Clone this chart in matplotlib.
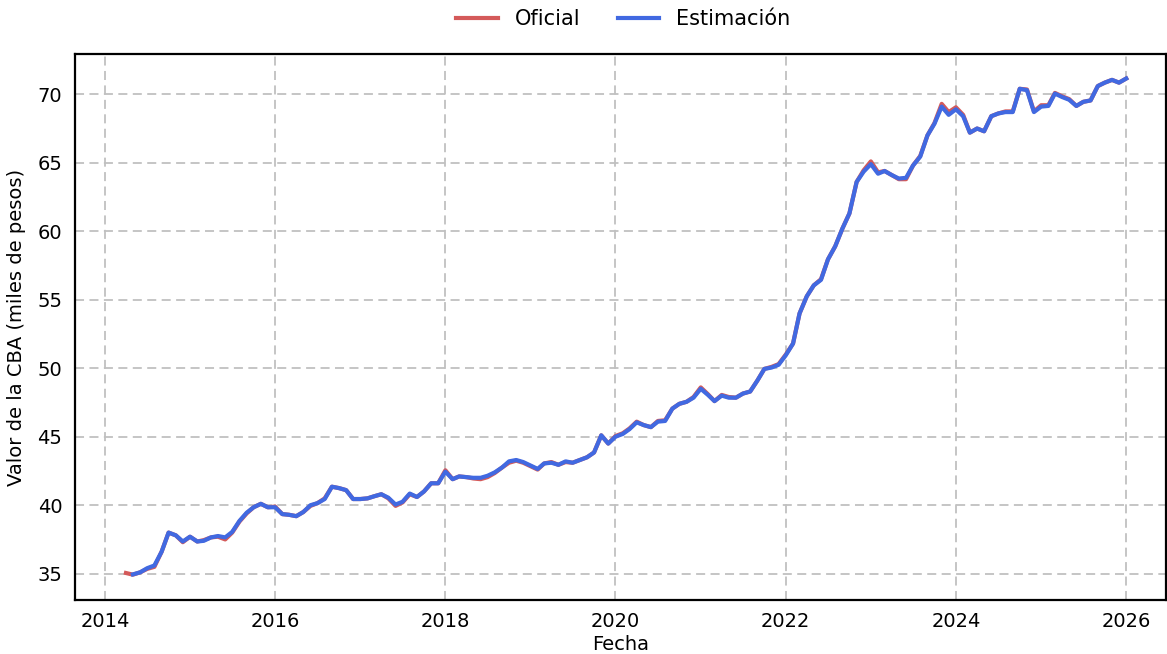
import pandas as pd
import matplotlib
matplotlib.use('Agg')
import matplotlib.pyplot as plt
import matplotlib.dates as mdates

# valores (miles de pesos), mensual
oficial_inicio = '2014-04-01'
oficial = [
    35.05, 34.93, 35.1, 35.35, 35.5, 36.6, 38.0, 37.8, 37.3,
    37.7, 37.35, 37.45, 37.65, 37.7, 37.5, 38.0, 38.8, 39.4, 39.85, 40.1, 39.85,
    39.9, 39.35, 39.3, 39.2, 39.5, 39.95, 40.15, 40.5, 41.35, 41.25, 41.1, 40.45,
    40.45, 40.5, 40.65, 40.8, 40.5, 39.95, 40.2, 40.8, 40.6, 41.0, 41.6, 41.6,
    42.55, 41.9, 42.1, 42.05, 41.95, 41.9, 42.05, 42.35, 42.75, 43.1, 43.25, 43.1,
    42.85, 42.6, 43.05, 43.15, 42.95, 43.15, 43.1, 43.3, 43.5, 43.85, 45.1, 44.5,
    45.05, 45.25, 45.6, 46.1, 45.85, 45.7, 46.15, 46.2, 47.05, 47.4, 47.55, 47.9,
    48.6, 48.1, 47.6, 48.05, 47.9, 47.85, 48.15, 48.3, 49.1, 49.95, 50.1, 50.3,
    51.0, 51.8, 54.0, 55.25, 56.05, 56.5, 57.95, 58.9, 60.2, 61.3, 63.6, 64.45,
    65.1, 64.3, 64.4, 64.1, 63.8, 63.8, 64.8, 65.5, 67.0, 67.9, 69.3, 68.7,
    69.05, 68.5, 67.2, 67.5, 67.3, 68.4, 68.6, 68.75, 68.75, 70.4, 70.35, 68.75,
    69.2, 69.2, 70.1, 69.85, 69.65, 69.15, 69.45, 69.55, 70.6, 70.85, 71.05, 70.85,
    71.15,
]

estimacion_inicio = '2014-05-01'
estimacion = [
    34.95, 35.1, 35.4, 35.6, 36.6, 38.0, 37.8, 37.35,
    37.7, 37.35, 37.4, 37.65, 37.75, 37.65, 38.05, 38.85, 39.45, 39.85, 40.1, 39.85,
    39.85, 39.35, 39.3, 39.2, 39.5, 40.0, 40.15, 40.45, 41.35, 41.25, 41.1, 40.45,
    40.45, 40.5, 40.65, 40.8, 40.55, 40.05, 40.25, 40.85, 40.6, 41.0, 41.6, 41.6,
    42.45, 41.9, 42.1, 42.05, 42.0, 42.0, 42.15, 42.4, 42.75, 43.2, 43.3, 43.15,
    42.9, 42.65, 43.05, 43.1, 42.95, 43.2, 43.1, 43.3, 43.5, 43.85, 45.1, 44.5,
    45.0, 45.2, 45.55, 46.05, 45.85, 45.7, 46.1, 46.15, 47.05, 47.4, 47.55, 47.85,
    48.5, 48.05, 47.6, 48.0, 47.85, 47.85, 48.15, 48.3, 49.1, 49.95, 50.05, 50.25,
    50.95, 51.8, 54.0, 55.25, 56.05, 56.45, 57.95, 58.9, 60.2, 61.3, 63.6, 64.35,
    64.9, 64.2, 64.4, 64.1, 63.85, 63.9, 64.8, 65.45, 67.0, 67.85, 69.1, 68.5,
    68.9, 68.4, 67.2, 67.5, 67.3, 68.4, 68.6, 68.7, 68.7, 70.4, 70.3, 68.7,
    69.1, 69.15, 70.05, 69.8, 69.6, 69.15, 69.45, 69.55, 70.6, 70.85, 71.05, 70.85,
    71.15,
]

fechas_oficial = pd.date_range(oficial_inicio, periods=len(oficial), freq='MS')
fechas_estimacion = pd.date_range(estimacion_inicio, periods=len(estimacion), freq='MS')

plt.rcParams['font.family'] = 'DejaVu Sans'

fig = plt.figure(figsize=(11.67, 6.54), dpi=100)
ax = fig.add_axes([0.064, 0.083, 0.935, 0.834])

ax.plot(fechas_oficial, oficial, color='#d45a5a', linewidth=3, label='Oficial')
ax.plot(fechas_estimacion, estimacion, color='#4169e1', linewidth=3, label='Estimación')

ax.set_xlim(pd.Timestamp('2013-08-24'), pd.Timestamp('2026-06-20'))
ax.set_ylim(33.1, 72.92)
ax.xaxis.set_major_locator(mdates.YearLocator(2))
ax.xaxis.set_major_formatter(mdates.DateFormatter('%Y'))
ax.set_yticks([35, 40, 45, 50, 55, 60, 65, 70])

ax.grid(True, linestyle='--', color='#c0c0c0', linewidth=1.3, dashes=(5, 3))
ax.set_axisbelow(True)
ax.tick_params(length=0, labelsize=14, pad=9)
for s in ax.spines.values():
    s.set_linewidth(1.6)
    s.set_color('black')

ax.set_xlabel('Fecha', fontsize=14, labelpad=3)
ax.set_ylabel('Valor de la CBA (miles de pesos)', fontsize=14, labelpad=8)

fig.legend(*ax.get_legend_handles_labels(), loc='center', bbox_to_anchor=(0.534, 0.971),
           ncol=2, frameon=False, fontsize=15, handlelength=2.0, columnspacing=1.8)

plt.savefig('out.png', dpi=100)
